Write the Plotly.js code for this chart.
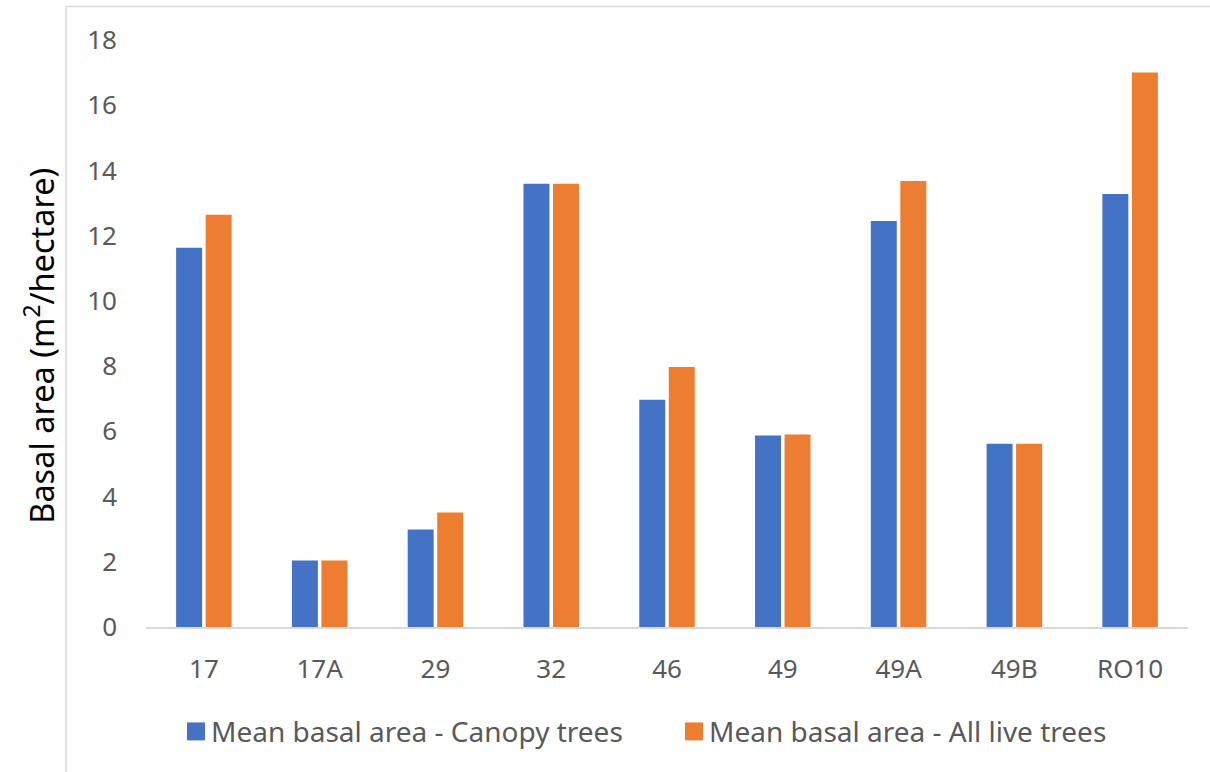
<!DOCTYPE html>
<html>
<head>
<meta charset="utf-8">
<script src="https://cdn.plot.ly/plotly-3.0.1.min.js"></script>
<style>
  html, body { margin: 0; padding: 0; background: #ffffff; }
  #chart { width: 1210px; height: 772px; }
</style>
</head>
<body>
<div id="chart"></div>
<script>
// Sites (x categories)
const sites = ["17", "17A", "29", "32", "46", "49", "49A", "49B", "RO10"];

// Mean basal area, m2/hectare
const canopyTrees = [11.63, 2.04, 2.99, 13.59, 6.97, 5.87, 12.45, 5.62, 13.28];
const allLiveTrees = [12.64, 2.04, 3.51, 13.59, 7.97, 5.90, 13.68, 5.62, 17.00];

// Series names and y tick values
const seriesNames = ["Mean basal area - Canopy trees", "Mean basal area - All live trees"];
const yTicks = [0, 2, 4, 6, 8, 10, 12, 14, 16, 18];
const yTitle = "Basal area (m<sup>2</sup>/hectare)";

const BLUE = "#4472C4";
const ORANGE = "#ED7D31";
const TEXT_GREY = "#595959";
const LINE_GREY = "#d9d9d9";
const FONT = "Noto Sans, Open Sans, sans-serif";

// Plot area in pixels, used to convert legend/frame positions to paper units
const W = 1210, H = 772;
const M = { l: 146, r: 22, t: 40, b: 144.5 };
const pw = W - M.l - M.r, ph = H - M.t - M.b;
const px = x => (x - M.l) / pw;
const py = y => (H - M.b - y) / ph;

const traces = [
  { type: "bar", name: seriesNames[0], x: sites, y: canopyTrees,
    marker: { color: BLUE }, hoverinfo: "x+y" },
  { type: "bar", name: seriesNames[1], x: sites, y: allLiveTrees,
    marker: { color: ORANGE }, hoverinfo: "x+y" }
];

const legendItems = [
  { color: BLUE, sq: 187, text: seriesNames[0], tx: 209 },
  { color: ORANGE, sq: 685, text: seriesNames[1], tx: 707 }
];
const legendY = 732, sqSize = 18;

const shapes = [
  // outer chart frame
  { type: "rect", xref: "paper", yref: "paper", layer: "below",
    x0: px(66), x1: px(1260), y0: py(900), y1: py(6.5),
    line: { color: LINE_GREY, width: 1.5 }, fillcolor: "rgba(0,0,0,0)" }
];
const annotations = [
  { xref: "paper", yref: "paper", x: px(40), y: py(346), text: yTitle,
    textangle: -90, showarrow: false, xanchor: "center", yanchor: "middle",
    font: { family: FONT, size: 32.5, color: "#000000" } }
];
legendItems.forEach(it => {
  shapes.push({ type: "rect", xref: "paper", yref: "paper",
    x0: px(it.sq), x1: px(it.sq + sqSize),
    y0: py(legendY + sqSize / 2), y1: py(legendY - sqSize / 2),
    line: { width: 0 }, fillcolor: it.color });
  annotations.push({ xref: "paper", yref: "paper", x: px(it.tx), y: py(legendY),
    text: it.text, showarrow: false, xanchor: "left", yanchor: "middle",
    font: { family: FONT, size: 28, color: TEXT_GREY } });
});

const layout = {
  width: W, height: H,
  margin: M,
  paper_bgcolor: "#ffffff",
  plot_bgcolor: "#ffffff",
  showlegend: false,
  barmode: "group",
  bargap: 0.49,
  bargroupgap: 0.12,
  font: { family: FONT, color: TEXT_GREY, size: 26 },
  xaxis: {
    type: "category",
    showgrid: false, zeroline: false,
    showline: true, linecolor: LINE_GREY, linewidth: 1.5,
    ticks: "", ticklabelstandoff: 18,
    tickfont: { family: FONT, size: 26, color: TEXT_GREY }
  },
  yaxis: {
    range: [0, 18],
    tickvals: yTicks,
    showgrid: false, zeroline: false, showline: false,
    ticks: "", ticklabelstandoff: 28,
    tickfont: { family: FONT, size: 26, color: TEXT_GREY }
  },
  shapes: shapes,
  annotations: annotations
};

Plotly.newPlot("chart", traces, layout, { displayModeBar: false, staticPlot: true });
</script>
</body>
</html>
